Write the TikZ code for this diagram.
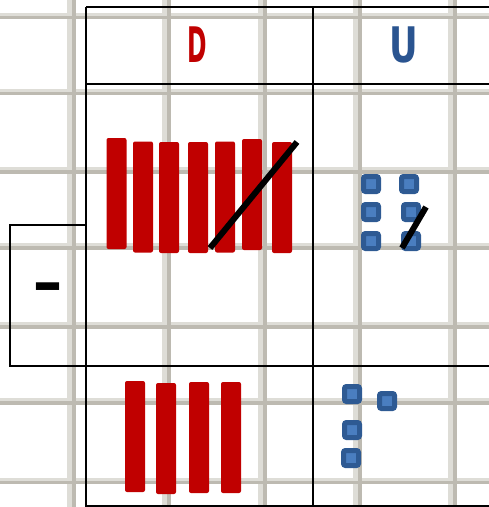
\documentclass[tikz,border=0pt]{standalone}
\usepackage{fontspec}
\setmainfont{DejaVu Sans}
\usepackage{tikz}
\definecolor{barred}{HTML}{C00000}
\definecolor{sqblue}{HTML}{4A7EC0}
\definecolor{sqdark}{HTML}{2E5A93}
\definecolor{ublue}{HTML}{2A5490}
\definecolor{gridlight}{HTML}{DEDDD7}
\definecolor{griddark}{HTML}{BDBAB1}
\tikzset{
  redbar/.style={fill=barred, rounded corners=2pt, minimum width=20pt,
    minimum height=111pt, inner sep=0pt},
  bluesq/.style={draw=sqdark, fill=sqblue, line width=5pt, rounded corners=2pt,
    minimum size=15pt, inner sep=0pt},
  crossout/.style={line width=6pt, black},
  tableline/.style={line width=2pt, black},
  headfont/.style={inner sep=0pt, font=\bfseries\fontsize{49}{49}\selectfont}
}

\begin{document}
\begin{tikzpicture}[x=1pt, y=-1pt]
    \useasboundingbox (0,0) rectangle (489,507);
    \clip (0,0) rectangle (489,507);
    % Paper grid
    \draw[line width=5pt, gridlight]
      (69.5,0) -- (69.5,507) (164.5,0) -- (164.5,507) (260.5,0) -- (260.5,507)
      (355.5,0) -- (355.5,507) (450.5,0) -- (450.5,507);
    \draw[line width=3.5pt, gridlight]
      (0,14.5) -- (489,14.5) (0,90.7) -- (489,90.7) (0,169) -- (489,169)
      (0,245) -- (489,245) (0,324) -- (489,324) (0,400) -- (489,400)
      (0,479.5) -- (489,479.5);
    \draw[line width=4pt, griddark]
      (74,0) -- (74,507) (169,0) -- (169,507) (265,0) -- (265,507)
      (360,0) -- (360,507) (455,0) -- (455,507);
    \draw[line width=3.5pt, griddark]
      (0,17.5) -- (489,17.5) (0,93.7) -- (489,93.7) (0,172) -- (489,172)
      (0,248) -- (489,248) (0,327) -- (489,327) (0,403) -- (489,403)
      (0,482.5) -- (489,482.5);
    % Table
    \draw[tableline] (86,7) -- (489,7);
    \draw[tableline] (86,84) -- (489,84);
    \draw[tableline] (10,366) -- (489,366);
    \draw[tableline] (86,506) -- (489,506);
    \draw[tableline] (86,7) -- (86,507);
    \draw[tableline] (313,7) -- (313,507);
    \draw[tableline] (10,225) rectangle (86,366);
    % Column heads
    \node[headfont, text=barred] (dhead) at (197,45) {\scalebox{0.48}[1]{D}};
    \node[headfont, text=ublue] (uhead) at (404,45) {\scalebox{0.72}[1]{U}};
    % Row sign
    \node[inner sep=0pt, anchor=base, font=\bfseries\fontsize{37}{37}\selectfont]
      (minus) at (48,307) {\scalebox{1}[1.8]{−}};
    % Red bars, first row
    \node[redbar] (r1) at (116.5,193.5) {};
    \node[redbar] (r2) at (143,197) {};
    \node[redbar] (r3) at (169,197.5) {};
    \node[redbar] (r4) at (198,197.5) {};
    \node[redbar] (r5) at (225,197) {};
    \node[redbar] (r6) at (252,194.5) {};
    \node[redbar] (r7) at (282,197.5) {};
    % Blue squares, first row
    \node[bluesq] (s1) at (371,184) {};
    \node[bluesq] (s2) at (409,184) {};
    \node[bluesq] (s3) at (371,212) {};
    \node[bluesq] (s4) at (411,212) {};
    \node[bluesq] (s5) at (371,241) {};
    \node[bluesq] (s6) at (411,241) {};
    % Crossing out
    \coordinate (dtop) at (297,142);
    \coordinate (dbot) at (210,248);
    \coordinate (utop) at (426,207);
    \coordinate (ubot) at (402,248);
    \draw[crossout] (dtop) -- (dbot);
    \draw[crossout] (utop) -- (ubot);
    % Second row
    \node[redbar] (b1) at (135,436.5) {};
    \node[redbar] (b2) at (166,438.5) {};
    \node[redbar] (b3) at (199,437.5) {};
    \node[redbar] (b4) at (231,437.5) {};
    \node[bluesq] (t1) at (352,394) {};
    \node[bluesq] (t2) at (387,401) {};
    \node[bluesq] (t3) at (352,430) {};
    \node[bluesq] (t4) at (351,458) {};
\end{tikzpicture}
\end{document}
